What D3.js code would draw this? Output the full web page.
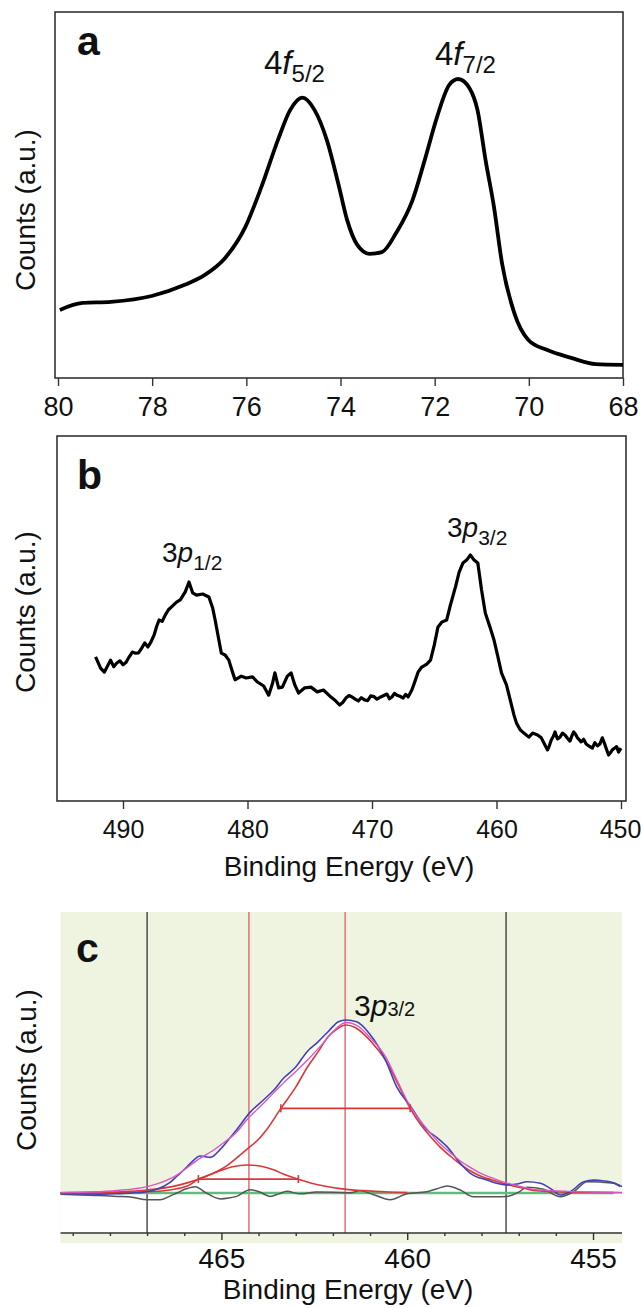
<!DOCTYPE html>
<html>
<head>
<meta charset="utf-8">
<script src="https://d3js.org/d3.v7.min.js"></script>
<style>
  body { margin: 0; background: #fff; }
  text { font-family: "Liberation Sans", Arial, sans-serif; fill: #111; }
  .frame { fill: none; stroke: #333; stroke-width: 1.6px; }
  .tick line { stroke: #333; stroke-width: 1.4px; }
  .domain { display: none; }
</style>
</head>
<body>
<svg id="chart" width="641" height="1308"></svg>
<script>
// ---- panel a : 4f region ----
var aEnergy = [79.96, 79.48, 78.88, 78.01, 77.32, 76.89, 76.45, 76.02, 75.68, 75.33, 75.07, 74.81, 74.55, 74.29, 74.03, 73.86, 73.64, 73.38, 73.12, 72.82, 72.47, 72.21, 71.95, 71.69, 71.50, 71.26, 71.09, 70.92, 70.74, 70.57, 70.31, 70.01, 69.62, 69.10, 68.58, 68.0];
var aCounts = [18.6, 20.5, 20.8, 22.4, 25.4, 28.1, 32.8, 41.3, 52.2, 65.0, 73.2, 76.6, 73.2, 65.0, 52.2, 43.2, 36.3, 33.9, 34.4, 39.6, 48.6, 59.6, 71.3, 80.1, 81.7, 79.2, 73.2, 59.6, 46.7, 31.4, 17.8, 10.4, 7.7, 5.5, 3.8, 3.6];
var aTicks = [80, 78, 76, 74, 72, 70, 68];

// ---- panel b : 3p region (main readings + extra readings of the noise) ----
var bEnergy = [492.2, 491.8, 491.5, 491.0, 490.5, 490.0, 489.5, 489.0, 488.5, 488.0, 487.5, 487.1, 486.6, 486.1, 485.7, 485.4, 485.0, 484.7, 484.4, 484.1, 483.6, 483.1, 482.8, 482.6, 482.3, 482.1, 481.8, 481.5, 481.2, 481.0, 480.5, 480.1, 479.6, 479.2, 478.7, 478.3, 478.0, 477.8, 477.5, 477.2, 476.8, 476.5, 476.2, 475.9, 475.4, 474.9, 474.4, 473.9, 473.4, 473.0, 472.6, 472.1, 471.6, 471.1, 470.6, 470.1, 469.6, 469.3, 468.8, 468.4, 468.0, 467.5, 467.1, 466.8, 466.6, 466.3, 466.0, 465.6, 465.3, 465.0, 464.7, 464.4, 464.0, 463.7, 463.3, 463.0, 462.7, 462.4, 462.1, 461.8, 461.5, 461.2, 460.9, 460.5, 460.2, 459.9, 459.6, 459.2, 458.9, 458.6, 458.4, 458.1, 457.8, 457.4, 457.1, 456.7, 456.4, 456.1, 455.9, 455.6, 455.3, 454.9, 454.5, 454.1, 453.8, 453.5, 453.2, 452.8, 452.3, 451.9, 451.5, 451.2, 451.0, 450.7, 450.5, 450.2, 450.0];
var bCounts = [39.5, 36.4, 35.3, 38.6, 37.8, 37.3, 39.5, 40.5, 41.9, 42.2, 45.5, 49.6, 51.0, 53.2, 54.5, 55.1, 57.3, 60.0, 57.0, 56.4, 56.7, 55.9, 52.9, 49.6, 44.1, 40.5, 40.0, 38.6, 35.3, 33.2, 34.2, 33.7, 34.0, 32.6, 31.5, 29.0, 32.1, 35.1, 31.0, 31.2, 34.2, 35.1, 31.8, 29.6, 31.0, 31.2, 29.9, 30.4, 28.8, 27.7, 26.3, 28.2, 28.5, 27.4, 27.7, 28.8, 27.9, 28.5, 29.3, 28.5, 29.0, 28.2, 28.5, 30.4, 32.3, 35.3, 36.7, 37.5, 38.6, 42.7, 47.7, 49.0, 49.6, 53.7, 58.6, 62.7, 65.2, 66.0, 67.4, 66.0, 65.2, 57.8, 51.5, 47.4, 44.1, 39.7, 35.1, 31.8, 27.7, 23.6, 21.4, 19.5, 18.6, 17.5, 18.6, 18.1, 17.3, 15.3, 14.0, 16.7, 18.9, 17.5, 18.1, 16.4, 18.9, 17.3, 16.2, 15.6, 14.5, 15.1, 17.3, 14.5, 12.6, 14.0, 14.5, 13.4, 14.5];
var bExtraEnergy = [490.75, 490.25, 489.75, 489.25, 488.75, 488.25, 487.75, 487.3, 486.85, 486.35, 472.35, 471.85, 471.35, 470.85, 470.35, 469.85, 468.6, 468.2, 467.75, 467.3, 455.75, 455.45, 455.1, 454.7, 454.3, 453.95, 453.65, 453.35, 453.0, 452.55, 452.1, 451.7, 451.35, 450.85, 450.35];
var bExtraCounts = [36.8, 38.4, 38.0, 40.8, 40.6, 43.3, 43.6, 47.8, 49.2, 52.4, 27.0, 28.9, 27.9, 28.3, 27.5, 28.6, 28.0, 29.5, 28.7, 29.2, 15.2, 17.6, 17.0, 18.6, 17.2, 17.8, 18.3, 16.8, 16.9, 15.0, 16.0, 15.6, 16.0, 13.2, 14.9];
var bTicks = [490, 480, 470, 460, 450];

// ---- panel c : 3p3/2 fit ----
var cDataE = [469.33, 468.8, 468.27, 467.8, 467.4, 467.0, 466.65, 466.4, 466.2, 466.0, 465.84, 465.57, 465.3, 465.03, 464.8, 464.59, 464.23, 463.87, 463.6, 463.33, 463.0, 462.7, 462.4, 462.13, 461.85, 461.65, 461.36, 461.02, 460.8, 460.58, 460.28, 459.92, 459.47, 459.2, 458.93, 458.57, 458.3, 457.85, 457.32, 457.0, 456.78, 456.42, 456.1, 455.88, 455.61, 455.25, 454.98, 454.7, 454.45, 454.22];
var cDataV = [-0.3, -0.6, -0.7, -0.4, 0.0, 0.8, 3, 6, 10, 14, 17.5, 22, 21.2, 26, 32, 37.7, 48, 55.4, 61, 68.3, 75, 84, 90, 96, 102, 103, 102, 95, 88, 79, 63, 52, 37.5, 33, 27.6, 17.7, 11.7, 7.7, 4.8, 5.5, 6.7, 5.8, 2, -1.2, 0.8, 6.7, 7.7, 7.2, 6.1, 3.8];

var cFitE = [469.33, 468.5, 467.8, 467.0, 466.6, 466.2, 465.9, 465.57, 465.25, 464.95, 464.6, 464.32, 464.05, 463.78, 463.4, 462.97, 462.65, 462.35, 462.0, 461.65, 461.3, 461.02, 460.58, 460.25, 459.92, 459.65, 459.37, 459.1, 458.82, 458.55, 458.26, 458.0, 457.71, 457.4, 457.16, 456.9, 456.61, 456.2, 455.7, 455.0, 454.22];
var cFitV = [0.2, 0.6, 1.5, 3.8, 6.5, 10.7, 15.5, 20.8, 25, 29.8, 36, 43.5, 49.5, 55.4, 64, 73, 80, 87, 96, 101.5, 99, 93, 81, 66, 51.6, 43, 35.5, 29, 23.6, 18.8, 14.7, 11.5, 9, 6.5, 5, 3.6, 2.2, 1.5, 1.0, 0.6, 0.4];

var cMainE = [469.33, 468.3, 467.65, 467.0, 466.33, 465.9, 465.44, 464.89, 464.34, 464.0, 463.79, 463.40, 463.0, 462.68, 462.4, 462.13, 461.9, 461.65, 461.4, 461.14, 460.85, 460.58, 460.25, 459.92, 459.65, 459.37, 459.1, 458.82, 458.55, 458.26, 458.0, 457.71, 457.4, 457.16, 456.85, 456.61, 456.0, 455.5, 454.22];
var cMainV = [0.2, 0.4, 0.8, 1.8, 3.8, 6.2, 9.7, 15.7, 25.6, 32, 37.5, 50.4, 63, 75.2, 84, 93, 97.5, 100, 98.5, 94, 87, 79, 65, 50.4, 41, 33.5, 27, 21.6, 16.8, 12.7, 9.8, 7.7, 5.6, 4.2, 2.8, 1.6, 0.8, 0.4, 0.2];

var cSmallE = [469.33, 467.6, 467.0, 466.6, 466.2, 465.9, 465.62, 465.3, 465.0, 464.7, 464.3, 463.9, 463.6, 463.3, 462.95, 462.6, 462.2, 461.8, 461.2, 460.5, 460.0];
var cSmallV = [0, 0.3, 0.8, 1.2, 2.5, 4.3, 8.3, 11, 13.5, 15.6, 16.7, 15.8, 13.8, 11, 8.3, 6, 4.0, 2.6, 1.4, 0.6, 0.3];

var cResE = [469.33, 468.8, 468.3, 467.82, 467.4, 467.0, 466.65, 466.4, 466.2, 465.95, 465.7, 465.4, 465.03, 464.8, 464.59, 464.23, 463.97, 463.69, 463.45, 463.24, 462.88, 462.43, 461.99, 461.53, 461.27, 460.9, 460.46, 460.01, 459.47, 459.2, 458.93, 458.57, 458.22, 457.68, 457.32, 457.0, 456.78, 456.33, 455.88, 455.52, 455.16, 454.8, 454.45, 454.27];
var cResV = [-0.8, -1.2, -1.5, -2, -2.5, -4, -4, -2, 0, 2.5, 3.8, -0.1, -3.5, -3, -2, 2, 0.6, -2, -0.5, 1, -0.5, 0.6, 0.5, 0.2, 1.4, -1, -4, -0.4, 0.8, 2.5, 4.2, 1.8, -2.2, -2.2, -2, 0.5, 3.4, 2.2, -2.2, 0.8, 6.7, 6.5, 5.8, 3.8];

var cPeaks = [464.26, 461.67];
var cRegion = [467.0, 457.34];
var cFwhmY = [50.4, 8.3];
var cFwhmLo = [463.40, 465.62];
var cFwhmHi = [459.92, 462.93];
var cBaseEnd = 454.45;
var cTicks = [465, 460, 455];
var cMinor = [469, 468, 467, 466, 464, 463, 462, 461, 459, 458, 457, 456];

var svg = d3.select("#chart");
var font = "'Liberation Sans', Arial, sans-serif";

function zip(xs, ys) { return xs.map(function(x, i) { return [x, ys[i]]; }); }

function peakLabel(g, x, y, num, orb, sub, size, subSize, subDy) {
  var t = g.append("text").attr("x", x).attr("y", y).style("font-size", size + "px");
  t.append("tspan").text(num);
  t.append("tspan").style("font-style", "italic").text(orb);
  t.append("tspan").style("font-size", subSize + "px").attr("dy", subDy).text(sub);
}

function yLabel(x, y) {
  svg.append("text")
    .attr("transform", "translate(" + x + "," + y + ") rotate(-90)")
    .attr("text-anchor", "middle")
    .style("font-size", "28px")
    .text("Counts (a.u.)");
}

// ===== panel a =====
var ax = d3.scaleLinear().domain([80, 68]).range([58, 623]);
var ay = d3.scaleLinear().domain([0, 100]).range([378, 12]);

svg.append("rect").attr("class", "frame").attr("x", 55).attr("y", 12).attr("width", 568).attr("height", 366);

var axA = svg.append("g").attr("transform", "translate(0,378)")
  .call(d3.axisBottom(ax).tickValues(aTicks).tickSize(8).tickSizeOuter(0).tickPadding(11));
axA.selectAll("text").style("font-size", "27px").style("font-family", font).attr("fill", "#111");

svg.append("path")
  .datum(zip(aEnergy, aCounts))
  .attr("fill", "none").attr("stroke", "#000").attr("stroke-width", 3.8)
  .attr("stroke-linejoin", "round")
  .attr("d", d3.line().x(function(d) { return ax(d[0]); }).y(function(d) { return ay(d[1]); }).curve(d3.curveMonotoneX));

svg.append("text").attr("x", 77).attr("y", 55).style("font-size", "41px").style("font-weight", "bold").text("a");
peakLabel(svg, 264, 74, "4", "f", "5/2", 33, 24, 8);
peakLabel(svg, 435, 65, "4", "f", "7/2", 33, 24, 8);
yLabel(35, 210);

// ===== panel b =====
var bx = d3.scaleLinear().domain([490, 450]).range([123, 621]);
var by = d3.scaleLinear().domain([0, 100]).range([801, 436]);

svg.append("rect").attr("class", "frame").attr("x", 57).attr("y", 436).attr("width", 569).attr("height", 365);

var axB = svg.append("g").attr("transform", "translate(0,801)")
  .call(d3.axisBottom(bx).tickValues(bTicks).tickSize(8).tickSizeOuter(0).tickPadding(11));
axB.selectAll("text").style("font-size", "25px").style("font-family", font).attr("fill", "#111");
axB.selectAll("text").filter(function(d) { return d === 450; }).attr("dx", -1);

var bPoints = zip(bEnergy, bCounts).concat(zip(bExtraEnergy, bExtraCounts))
  .sort(function(p, q) { return q[0] - p[0]; });

svg.append("path")
  .datum(bPoints)
  .attr("fill", "none").attr("stroke", "#000").attr("stroke-width", 3.2)
  .attr("stroke-linejoin", "round")
  .attr("d", d3.line().x(function(d) { return bx(d[0]); }).y(function(d) { return by(d[1]); }));

svg.append("text").attr("x", 77).attr("y", 489).style("font-size", "41px").style("font-weight", "bold").text("b");
peakLabel(svg, 162, 562, "3", "p", "1/2", 28, 21, 8);
peakLabel(svg, 447, 537, "3", "p", "3/2", 28, 21, 8);
yLabel(35, 612);

svg.append("text").attr("x", 349).attr("y", 876).attr("text-anchor", "middle")
  .style("font-size", "28px").text("Binding Energy (eV)");

// ===== panel c =====
var cx = d3.scaleLinear().domain([469.33, 454.22]).range([60.5, 622]);
var cy = d3.scaleLinear().domain([-23.8, 167.3]).range([1233, 912]);

svg.append("rect").attr("x", 60.5).attr("y", 912).attr("width", 561.5).attr("height", 331).attr("fill", "#eef4e0");

// white area under the measured curve
svg.append("path")
  .datum(zip(cDataE, cDataV))
  .attr("fill", "#fff")
  .attr("d", d3.area().x(function(d) { return cx(d[0]); }).y0(1233).y1(function(d) { return cy(Math.max(d[1], 0)); }).curve(d3.curveMonotoneX));

// region and peak markers
svg.selectAll(".region").data(cRegion).enter().append("line")
  .attr("x1", function(d) { return cx(d); }).attr("x2", function(d) { return cx(d); })
  .attr("y1", 912).attr("y2", 1233).attr("stroke", "#222").attr("stroke-width", 1.2);
svg.selectAll(".peakline").data(cPeaks).enter().append("line")
  .attr("x1", function(d) { return cx(d); }).attr("x2", function(d) { return cx(d); })
  .attr("y1", 912).attr("y2", 1233).attr("stroke", "#e07a7a").attr("stroke-width", 1.6);

var lc = d3.line().x(function(d) { return cx(d[0]); }).y(function(d) { return cy(d[1]); }).curve(d3.curveMonotoneX);

// baseline
svg.append("line").attr("x1", cx(469.33)).attr("x2", cx(cBaseEnd))
  .attr("y1", cy(0)).attr("y2", cy(0)).attr("stroke", "#5cbf7c").attr("stroke-width", 2.4);

svg.append("path").datum(zip(cResE, cResV)).attr("fill", "none").attr("stroke", "#555").attr("stroke-width", 1.5).attr("d", lc);
svg.append("path").datum(zip(cSmallE, cSmallV)).attr("fill", "none").attr("stroke", "#d83838").attr("stroke-width", 1.6).attr("d", lc);
svg.append("path").datum(zip(cMainE, cMainV)).attr("fill", "none").attr("stroke", "#d83838").attr("stroke-width", 1.6).attr("d", lc);
svg.append("path").datum(zip(cDataE, cDataV)).attr("fill", "none").attr("stroke", "#4040b8").attr("stroke-width", 1.6).attr("d", lc);
svg.append("path").datum(zip(cFitE, cFitV)).attr("fill", "none").attr("stroke", "#dd55c4").attr("stroke-width", 1.4).attr("d", lc);

// FWHM bars
cFwhmY.forEach(function(v, i) {
  var g = svg.append("g").attr("stroke", "#d83838").attr("stroke-width", 1.6);
  g.append("line").attr("x1", cx(cFwhmLo[i])).attr("x2", cx(cFwhmHi[i])).attr("y1", cy(v)).attr("y2", cy(v));
  [cFwhmLo[i], cFwhmHi[i]].forEach(function(e) {
    g.append("line").attr("x1", cx(e)).attr("x2", cx(e)).attr("y1", cy(v) - 4).attr("y2", cy(v) + 4);
  });
});

// x axis
svg.append("line").attr("x1", 60.5).attr("x2", 622).attr("y1", 1233).attr("y2", 1233).attr("stroke", "#333").attr("stroke-width", 1.6);
svg.append("g").attr("transform", "translate(0,1233)")
  .call(d3.axisBottom(cx).tickValues(cMinor).tickSize(3).tickSizeOuter(0).tickFormat(""));
var axC = svg.append("g").attr("transform", "translate(0,1233)")
  .call(d3.axisBottom(cx).tickValues(cTicks).tickSize(7).tickSizeOuter(0).tickPadding(8));
axC.selectAll("text").style("font-size", "28px").style("font-family", font).attr("fill", "#111");
svg.selectAll(".tick line").attr("stroke", "#333");

svg.append("text").attr("x", 76).attr("y", 962).style("font-size", "41px").style("font-weight", "bold").text("c");
peakLabel(svg, 354, 1016, "3", "p", "3/2", 30, 20, 0);
yLabel(36, 1070);

svg.append("text").attr("x", 348).attr("y", 1299).attr("text-anchor", "middle")
  .style("font-size", "28px").text("Binding Energy (eV)");
</script>
</body>
</html>
